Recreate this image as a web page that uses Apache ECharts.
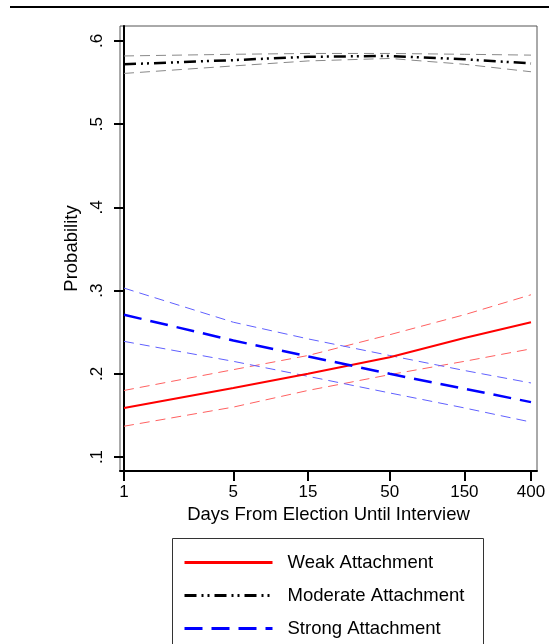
<!DOCTYPE html>
<html>
<head>
<meta charset="utf-8">
<script src="https://cdn.jsdelivr.net/npm/echarts@6/dist/echarts.min.js"></script>
<style>
  html, body { margin: 0; padding: 0; background: #fff; }
  #chart { width: 549px; height: 644px; }
</style>
</head>
<body>
<div id="chart"></div>
<script>
// days since election (x axis is log scale)
const days = [1, 5, 15, 50, 150, 400];
const xTicks = [1, 5, 15, 50, 150, 400];
const yTicks = [0.1, 0.2, 0.3, 0.4, 0.5, 0.6];

// predicted probabilities + 95% bounds
const weak = [0.159, 0.183, 0.200, 0.220, 0.243, 0.262];
const weakHi = [0.180, 0.205, 0.222, 0.247, 0.271, 0.295];
const weakLo = [0.137, 0.160, 0.180, 0.199, 0.215, 0.230];

const moderate = [0.572, 0.577, 0.581, 0.582, 0.578, 0.573];
const moderateHi = [0.582, 0.584, 0.585, 0.585, 0.584, 0.583];
const moderateLo = [0.561, 0.570, 0.576, 0.579, 0.572, 0.563];

const strong = [0.271, 0.240, 0.221, 0.200, 0.182, 0.166];
const strongHi = [0.303, 0.262, 0.242, 0.222, 0.204, 0.189];
const strongLo = [0.239, 0.215, 0.197, 0.177, 0.159, 0.142];

const lg = v => Math.log10(v);
const pts = vals => days.map((d, i) => [lg(d), vals[i]]);

function line(name, vals, color, width, type, z) {
  return {
    name,
    type: 'line',
    data: pts(vals),
    symbol: 'none',
    z: z || 2,
    lineStyle: { color, width, type },
    itemStyle: { color },
    silent: true,
  };
}

const font = 'Liberation Sans, Arial, sans-serif';
const chart = echarts.init(document.getElementById('chart'));

chart.setOption({
  animation: false,
  grid: {
    left: 120, top: 26, right: 12, bottom: 173,
    show: true, borderColor: '#555', borderWidth: 1,
  },
  xAxis: {
    type: 'value',
    min: -0.0256,
    max: 2.6404,
    name: 'Days From Election Until Interview',
    nameLocation: 'middle',
    nameGap: 34,
    nameTextStyle: { fontFamily: font, fontSize: 18.5, color: '#000' },
    splitLine: { show: false },
    axisLine: { lineStyle: { color: '#000', width: 2 } },
    axisTick: { customValues: xTicks.map(lg), length: 10, lineStyle: { color: '#000', width: 2 } },
    axisLabel: {
      customValues: xTicks.map(lg),
      formatter: v => String(Math.round(Math.pow(10, v))),
      fontFamily: font, fontSize: 17, color: '#000', margin: 13,
    },
  },
  yAxis: {
    type: 'value',
    min: 0.0832,
    max: 0.618,
    name: 'Probability',
    nameLocation: 'middle',
    nameGap: 31,
    nameRotate: 90,
    nameTextStyle: { fontFamily: font, fontSize: 18.5, color: '#000' },
    splitLine: { show: false },
    axisLine: { lineStyle: { color: '#000', width: 2 } },
    axisTick: { customValues: yTicks, length: 10, lineStyle: { color: '#000', width: 2 } },
    axisLabel: {
      customValues: yTicks,
      rotate: 90,
      formatter: v => '.' + Math.round(v * 10),
      fontFamily: font, fontSize: 17, color: '#000', margin: 14,
    },
  },
  legend: {
    data: ['Weak Attachment', 'Moderate Attachment', 'Strong Attachment'],
    orient: 'vertical',
    left: 178,
    top: 548,
    height: 150,
    itemWidth: 88,
    itemHeight: 14,
    itemGap: 14,
    itemStyle: { opacity: 0 },
    lineStyle: { width: 3 },
    textStyle: { fontFamily: font, fontSize: 18.5, color: '#000', padding: [0, 0, 0, 10] },
    selectedMode: false,
  },
  graphic: [
    { type: 'line', shape: { x1: 10, y1: 7, x2: 549, y2: 7 }, style: { stroke: '#000', lineWidth: 2 } },
    { type: 'rect', shape: { x: 172.5, y: 538.5, width: 311, height: 120 }, style: { fill: 'none', stroke: '#333', lineWidth: 1 } },
  ],
  series: [
    line('Moderate Hi', moderateHi, '#888', 1, [10, 6]),
    line('Moderate Lo', moderateLo, '#888', 1, [10, 6]),
    line('Weak Hi', weakHi, '#ff6060', 1, [10, 6]),
    line('Weak Lo', weakLo, '#ff6060', 1, [10, 6]),
    line('Strong Hi', strongHi, '#6060ff', 1, [10, 6]),
    line('Strong Lo', strongLo, '#6060ff', 1, [10, 6]),
    line('Weak Attachment', weak, '#ff0000', 2, 'solid', 3),
    line('Moderate Attachment', moderate, '#000', 2.5, [12, 5, 2, 4, 2, 5], 3),
    line('Strong Attachment', strong, '#0000ff', 2.5, [18, 9], 3),
  ],
});
</script>
</body>
</html>
